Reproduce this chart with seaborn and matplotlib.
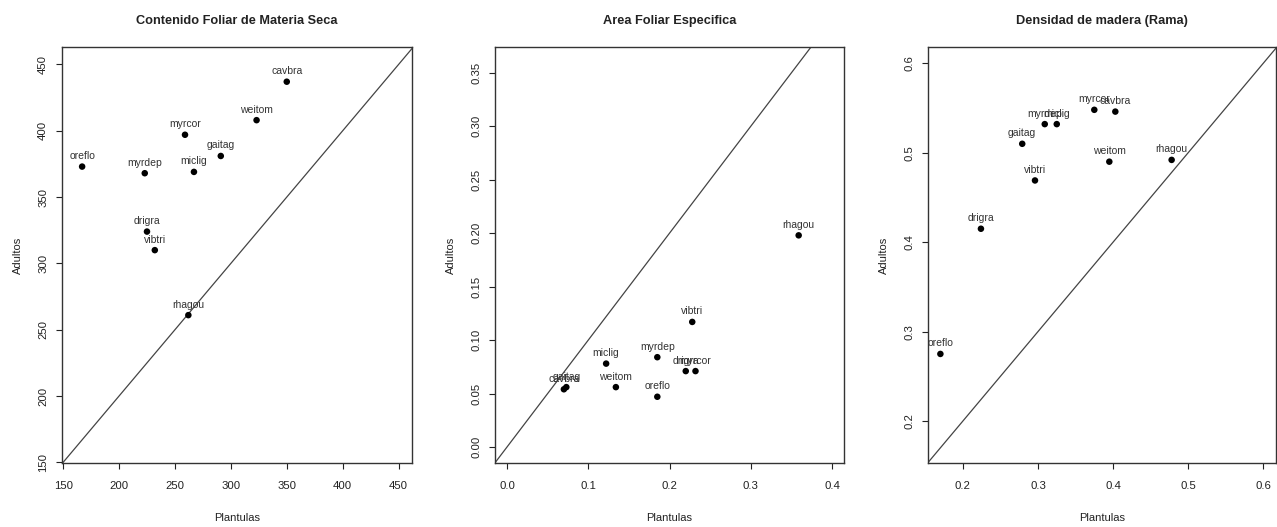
import numpy as np
import pandas as pd
import matplotlib
matplotlib.use('Agg')
import matplotlib.pyplot as plt
import seaborn as sns

# Contenido foliar de materia seca
ldmc_species = ['oreflo', 'myrdep', 'myrcor', 'miclig', 'gaitag', 'weitom',
                'cavbra', 'drigra', 'vibtri', 'rhagou']
ldmc_plant = [167, 223, 259, 267, 291, 323, 350, 225, 232, 262]
ldmc_adult = [373, 368, 397, 369, 381, 408, 437, 324, 310, 261]

# Area foliar especifica
sla_species = ['rhagou', 'vibtri', 'myrdep', 'miclig', 'drigra', 'myrcor',
               'weitom', 'oreflo', 'cavbra', 'gaitag']
sla_plant = [0.359, 0.228, 0.185, 0.122, 0.220, 0.232, 0.134, 0.185, 0.070, 0.073]
sla_adult = [0.198, 0.117, 0.084, 0.078, 0.071, 0.071, 0.056, 0.047, 0.054, 0.056]

# Densidad de madera (rama)
wd_species = ['oreflo', 'drigra', 'vibtri', 'gaitag', 'myrdep', 'miclig',
              'myrcor', 'cavbra', 'weitom', 'rhagou']
wd_plant = [0.170, 0.224, 0.296, 0.279, 0.309, 0.325, 0.375, 0.403, 0.395, 0.478]
wd_adult = [0.275, 0.415, 0.469, 0.510, 0.532, 0.532, 0.548, 0.546, 0.490, 0.492]

titles = ['Contenido Foliar de Materia Seca', 'Area Foliar Especifica',
          'Densidad de madera (Rama)']

xticks_list = [np.arange(150, 451, 50), np.arange(0, 0.41, 0.1), np.arange(0.2, 0.61, 0.1)]
yticks_list = [np.arange(150, 451, 50), np.arange(0, 0.351, 0.05), np.arange(0.2, 0.61, 0.1)]
xfmt = ['{:.0f}', '{:.1f}', '{:.1f}']
yfmt = ['{:.0f}', '{:.2f}', '{:.1f}']
xlims = [(149, 462), (-0.0148, 0.4148), (0.1535, 0.617)]
ylims = [(149.5, 463), (-0.015, 0.374), (0.153, 0.618)]

sns.set_style('ticks')
plt.rcParams['font.family'] = ['Liberation Sans', 'DejaVu Sans']

fig = plt.figure(figsize=(12.77, 5.27), dpi=100)
bottom, height = 0.1214, 0.789
ax1 = fig.add_axes([62 / 1277, bottom, 350 / 1277, height])
ax2 = fig.add_axes([495 / 1277, bottom, 349 / 1277, height])
ax3 = fig.add_axes([928 / 1277, bottom, 348 / 1277, height])

data = [(ldmc_species, ldmc_plant, ldmc_adult),
        (sla_species, sla_plant, sla_adult),
        (wd_species, wd_plant, wd_adult)]

txt = '#222222'
for i, ax in enumerate([ax1, ax2, ax3]):
    sp, xp, ya = data[i]
    df = pd.DataFrame({'especie': sp, 'Plantulas': xp, 'Adultos': ya})
    ax.axline((0, 0), slope=1, color='#444444', lw=0.9, zorder=1)
    sns.scatterplot(data=df, x='Plantulas', y='Adultos', ax=ax, color='black',
                    s=22, edgecolor='none', zorder=3)
    for _, r in df.iterrows():
        ax.annotate(r['especie'], (r['Plantulas'], r['Adultos']),
                    xytext=(0, 4), textcoords='offset points', ha='center',
                    va='bottom', fontsize=7.5, color='#333333')
    ax.set_xlim(xlims[i])
    ax.set_ylim(ylims[i])
    ax.set_xticks(xticks_list[i])
    ax.set_yticks(yticks_list[i])
    ax.set_xticklabels([xfmt[i].format(v) for v in xticks_list[i]])
    ax.set_yticklabels([yfmt[i].format(v) for v in yticks_list[i]], rotation=90,
                       va='center')
    ax.tick_params(length=4, width=0.8, labelsize=8.2, colors=txt)
    ax.tick_params(axis='x', pad=9)
    ax.tick_params(axis='y', pad=6)
    for s in ax.spines.values():
        s.set_linewidth(1.0)
        s.set_color('#333333')
    ax.set_xlabel('Plantulas', fontsize=8, labelpad=16, color=txt)
    ax.set_ylabel('Adultos', fontsize=8, labelpad=11, color=txt)
    ax.set_title(titles[i], fontsize=9.2, fontweight='bold', pad=17, color=txt)

fig.savefig('out.png', dpi=100)
